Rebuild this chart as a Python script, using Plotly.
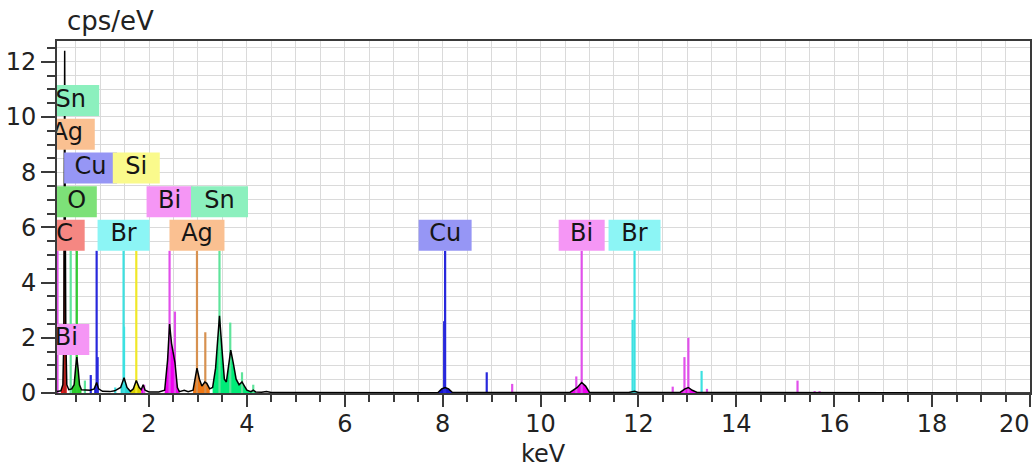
import plotly.graph_objects as go

# ---------------- data ----------------
# EDS spectrum (keV, cps/eV)
spec_kev = [0.10, 0.12, 0.20, 0.24, 0.26, 0.27, 0.277, 0.285, 0.30, 0.32, 0.36, 0.42, 0.47, 0.50,
            0.525, 0.55, 0.58, 0.62, 0.70, 0.80, 0.88, 0.93, 0.97, 1.05, 1.20, 1.30, 1.42, 1.49,
            1.55, 1.62, 1.68, 1.74, 1.80, 1.84, 1.88, 1.92, 2.00, 2.20, 2.32, 2.38, 2.42, 2.46,
            2.50, 2.53, 2.58, 2.62, 2.72, 2.80, 2.90, 2.94, 2.98, 3.03, 3.08, 3.14, 3.18, 3.24,
            3.30, 3.36, 3.44, 3.49, 3.54, 3.58, 3.63, 3.67, 3.72, 3.78, 3.84, 3.90, 3.95, 4.00,
            4.08, 4.13, 4.18, 4.30, 4.40, 4.50, 4.60, 7.90, 7.98, 8.05, 8.12, 8.20, 10.60, 10.75,
            10.84, 10.92, 11.00, 11.80, 11.92, 12.00, 12.85, 12.95, 13.02, 13.10, 13.20, 20.0]
spec_cps = [0.00, 0.05, 0.08, 0.30, 2.00, 8.00, 12.40, 8.00, 2.00, 0.30, 0.12, 0.15, 0.30, 0.90,
            1.30, 0.90, 0.30, 0.12, 0.10, 0.10, 0.15, 0.38, 0.15, 0.06, 0.05, 0.08, 0.20, 0.55,
            0.20, 0.06, 0.15, 0.45, 0.20, 0.12, 0.30, 0.10, 0.04, 0.04, 0.10, 1.20, 2.50, 1.80,
            1.40, 1.10, 0.20, 0.05, 0.10, 0.05, 0.10, 0.50, 0.90, 0.50, 0.25, 0.40, 0.35, 0.15,
            0.20, 0.90, 2.80, 1.60, 0.50, 0.40, 1.00, 1.55, 1.10, 0.50, 0.30, 0.40, 0.25, 0.10,
            0.05, 0.10, 0.04, 0.03, 0.05, 0.02, 0.02, 0.01, 0.15, 0.20, 0.15, 0.02, 0.02, 0.20,
            0.38, 0.25, 0.02, 0.02, 0.06, 0.02, 0.02, 0.15, 0.20, 0.10, 0.02, 0.00]

# coloured peak areas: element, start keV, end keV
fill_el = ["C", "O", "Cu", "Br", "Si", "Bi", "Bi", "Ag", "Sn", "Cu", "Bi", "Br", "Bi"]
fill_lo = [0.20, 0.42, 0.88, 1.38, 1.62, 1.84, 2.30, 2.88, 3.27, 7.90, 10.60, 11.80, 12.85]
fill_hi = [0.34, 0.62, 1.00, 1.62, 1.84, 1.95, 2.62, 3.27, 4.20, 8.20, 11.00, 12.00, 13.20]

# element line markers: element, keV, height (cps/eV)
marker_el = ["Bi", "C", "Sn", "O", "Cu", "Br", "Si", "Bi", "Ag", "Sn", "Cu", "Bi", "Br",
             "Sn", "Cu", "Cu", "Br", "Br", "Bi", "Bi", "Ag", "Sn", "Sn", "Sn", "Cu", "Cu",
             "Bi", "Bi", "Br", "Bi", "Bi", "Bi", "Br", "Bi", "Bi", "Bi", "Bi"]
marker_kev = [0.13, 0.277, 0.40, 0.525, 0.93, 1.48, 1.74, 2.42, 2.98, 3.44, 8.05, 10.84, 11.92,
              0.69, 0.81, 0.95, 1.31, 1.49, 1.90, 2.53, 3.15, 3.66, 3.90, 4.13, 8.03, 8.90,
              9.42, 10.73, 11.88, 12.70, 12.94, 13.02, 13.29, 13.40, 15.25, 15.60, 15.70]
marker_h = [5.15, 5.15, 5.15, 5.15, 5.15, 5.15, 5.15, 5.15, 5.15, 5.15, 5.15, 5.15, 5.15,
            0.45, 0.65, 1.30, 0.20, 2.40, 0.30, 2.95, 2.20, 2.55, 0.75, 0.30, 2.60, 0.75,
            0.33, 0.60, 2.65, 0.23, 1.30, 2.00, 0.80, 0.15, 0.45, 0.07, 0.07]

# element labels: symbol, centre keV, box bottom (cps/eV)
label_el = ["C", "O", "Cu", "Si", "Ag", "Sn", "Bi", "Br", "Bi", "Sn", "Ag", "Cu", "Bi", "Br"]
label_kev = [0.277, 0.525, 0.806, 1.74, 0.33, 0.40, 0.31, 1.48, 2.42, 3.44, 2.98, 8.05, 10.84, 11.92]
label_base = [5.15, 6.37, 7.59, 7.59, 8.81, 10.03, 1.38, 5.15, 6.37, 6.37, 5.15, 5.15, 5.15, 5.15]

x_ticks = [2, 4, 6, 8, 10, 12, 14, 16, 18, 20]
y_ticks = [0, 2, 4, 6, 8, 10, 12]

# ---------------- style ----------------
FONT = "DejaVu Sans"
box_col = {"C": "rgb(245,135,130)", "O": "rgb(125,225,120)", "Cu": "rgb(150,150,245)",
           "Si": "rgb(250,250,140)", "Ag": "rgb(250,192,145)", "Sn": "rgb(140,240,190)",
           "Bi": "rgb(245,150,245)", "Br": "rgb(140,245,245)"}
fill_col = {"C": "rgb(230,25,25)", "O": "rgb(40,205,40)", "Cu": "rgb(20,20,210)",
            "Br": "rgb(40,210,210)", "Si": "rgb(215,205,0)", "Bi": "rgb(240,0,240)",
            "Ag": "rgb(240,120,20)", "Sn": "rgb(0,235,120)"}
line_col = {"C": "rgb(175,35,30)", "O": "rgb(50,205,50)", "Cu": "rgb(40,40,220)",
            "Br": "rgb(60,225,225)", "Si": "rgb(240,232,40)", "Bi": "rgb(225,80,235)",
            "Ag": "rgb(215,145,80)", "Sn": "rgb(95,228,155)"}
box_px = {"C": 40, "O": 40, "Cu": 53, "Si": 47, "Bi": 46, "Br": 52, "Ag": 55, "Sn": 57}

W, H = 1035, 468
ML, MR, MT, MB = 57, 5, 41, 75
XR = [0.12, 20]
YR = [0, 12.75]
px_per_kev = (W - ML - MR) / (XR[1] - XR[0])
px_per_cps = (H - MT - MB) / (YR[1] - YR[0])
box_h = 31 / px_per_cps

fig = go.Figure()

# peak fills
for el, lo, hi in zip(fill_el, fill_lo, fill_hi):
    xs = [x for x in spec_kev if lo <= x <= hi]
    ys = [y for x, y in zip(spec_kev, spec_cps) if lo <= x <= hi]
    fig.add_trace(go.Scatter(x=xs, y=ys, mode="lines", fill="tozeroy",
                             fillcolor=fill_col[el], line=dict(width=0),
                             hoverinfo="skip", showlegend=False))

# element line markers
for el in box_col:
    xs, ys = [], []
    for m, e, h in zip(marker_el, marker_kev, marker_h):
        if m == el:
            xs += [e, e, None]
            ys += [0, h, None]
    if xs:
        fig.add_trace(go.Scatter(x=xs, y=ys, mode="lines",
                                 line=dict(color=line_col[el], width=2.2),
                                 hoverinfo="skip", showlegend=False))

# spectrum outline
fig.add_trace(go.Scatter(x=spec_kev, y=spec_cps, mode="lines",
                         line=dict(color="black", width=1.5),
                         hoverinfo="skip", showlegend=False))

# label boxes
for el, e, b in zip(label_el, label_kev, label_base):
    hw = box_px[el] / 2 / px_per_kev
    fig.add_trace(go.Scatter(x=[e - hw, e + hw, e + hw, e - hw, e - hw],
                             y=[b, b, b + box_h, b + box_h, b],
                             mode="lines", fill="toself", fillcolor=box_col[el],
                             line=dict(width=0), hoverinfo="skip", showlegend=False))

fig.add_trace(go.Scatter(x=label_kev, y=[b + box_h / 2 for b in label_base],
                         text=label_el, mode="text", textposition="middle center",
                         textfont=dict(family=FONT, size=24, color="#151515"),
                         cliponaxis=True, hoverinfo="skip", showlegend=False))

axis_common = dict(showline=True, linecolor="#3a3a3a", linewidth=2, mirror=True,
                   ticks="outside", tickcolor="#3a3a3a", tickwidth=1.5,
                   showgrid=True, gridcolor="#dadada", gridwidth=1, zeroline=False,
                   automargin=False,
                   tickfont=dict(family=FONT, size=24, color="#222"))

# last x tick label sits at the window edge: drawn right-aligned as an annotation
x_ticktext = [str(v) for v in x_ticks[:-1]] + [""]

fig.update_xaxes(range=XR, tickmode="array", tickvals=x_ticks,
                 ticktext=x_ticktext, ticklen=12, ticklabelstandoff=-4,
                 minor=dict(dtick=0.5, tick0=0, ticks="outside", ticklen=7,
                            tickcolor="#3a3a3a", tickwidth=1.5,
                            showgrid=True, gridcolor="#dadada", gridwidth=1),
                 **axis_common)
fig.update_yaxes(range=YR, tickmode="array", tickvals=y_ticks,
                 ticktext=[str(v) for v in y_ticks], ticklen=14,
                 minor=dict(dtick=0.5, tick0=0, ticks="outside", ticklen=8,
                            tickcolor="#3a3a3a", tickwidth=1.5,
                            showgrid=True, gridcolor="#dadada", gridwidth=1),
                 **axis_common)

fig.add_annotation(text=str(x_ticks[-1]), xref="x", yref="paper", x=x_ticks[-1], y=0,
                   xanchor="right", yanchor="middle", xshift=2, yshift=-31, showarrow=False,
                   font=dict(family=FONT, size=24, color="#222"))
fig.add_annotation(text="cps/eV", xref="paper", yref="paper", x=0, y=1,
                   xanchor="left", yanchor="middle", xshift=8, yshift=20, showarrow=False,
                   font=dict(family=FONT, size=26, color="#222"))
fig.add_annotation(text="keV", xref="paper", yref="paper", x=0.5, y=0,
                   xanchor="center", yanchor="middle", yshift=-61, showarrow=False,
                   font=dict(family=FONT, size=24, color="#222"))

fig.update_layout(width=W, height=H, margin=dict(l=ML, r=MR, t=MT, b=MB),
                  paper_bgcolor="white", plot_bgcolor="white", showlegend=False)

fig.write_html("out.html", config={"displayModeBar": False},
               post_script="document.body.style.margin='0px';document.body.style.overflow='hidden';")
